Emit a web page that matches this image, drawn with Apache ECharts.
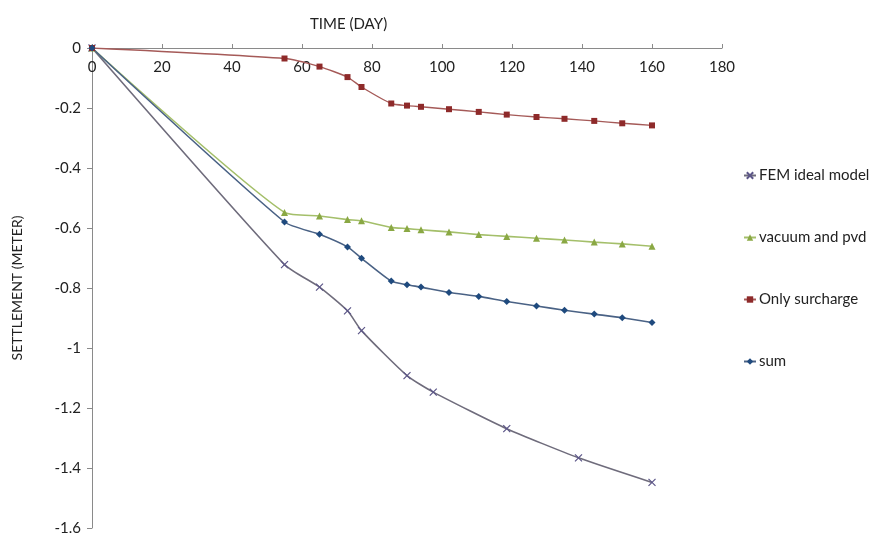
<!DOCTYPE html>
<html>
<head>
<meta charset="utf-8">
<script src="https://cdn.jsdelivr.net/npm/echarts@6/dist/echarts.min.js"></script>
<style>html,body{margin:0;padding:0;background:#fff}#c{width:869px;height:535px}</style>
</head>
<body>
<div id="c"></div>
<script>
var days = [0, 55, 65, 73, 77, 85.5, 90, 94, 102, 110.5, 118.5, 127, 135, 143.5, 151.5, 160];
var surcharge = [0, -0.035, -0.062, -0.097, -0.13, -0.185, -0.192, -0.196, -0.204, -0.213, -0.222, -0.23, -0.236, -0.243, -0.251, -0.258];
var vacuum = [0, -0.548, -0.56, -0.572, -0.576, -0.598, -0.602, -0.606, -0.613, -0.622, -0.628, -0.634, -0.64, -0.647, -0.653, -0.661];
var sum = [0, -0.58, -0.621, -0.663, -0.701, -0.777, -0.789, -0.797, -0.815, -0.828, -0.845, -0.86, -0.874, -0.887, -0.899, -0.915];
var femDays = [0, 55, 65, 73, 77, 90, 97.5, 118.5, 139, 160];
var fem = [0, -0.722, -0.797, -0.876, -0.942, -1.092, -1.147, -1.269, -1.366, -1.448];
var seriesNames = ['FEM ideal model', 'vacuum and pvd', 'Only surcharge', 'sum'];

function pairs(xs, ys) { return xs.map(function (x, i) { return [x, ys[i]]; }); }

var font = 'Lato, "Open Sans", sans-serif';
var chart = echarts.init(document.getElementById('c'), null, {renderer: 'canvas'});
chart.setOption({
  animation: false,
  backgroundColor: '#fff',
  title: {
    text: 'TIME (DAY)', left: 305, top: 12,
    textStyle: {fontFamily: font, fontSize: 15, fontWeight: 'normal', color: '#222'}
  },
  grid: {left: 92, right: 147, top: 48, bottom: 7, containLabel: false, outerBoundsMode: 'none'},
  legend: {
    orient: 'vertical', left: 738, top: 163, itemGap: 47, itemWidth: 12, itemHeight: 8,
    textStyle: {fontFamily: font, fontSize: 15, color: '#222', padding: [0, 0, 0, -2]},
    data: seriesNames
  },
  xAxis: {
    type: 'value', position: 'top', min: 0, max: 180, interval: 20,
    axisLine: {onZero: false, lineStyle: {color: '#8a8a8a', width: 1}},
    axisTick: {show: true, length: 4, lineStyle: {color: '#8a8a8a'}},
    axisLabel: {inside: true, margin: 12, fontFamily: font, fontSize: 15, color: '#222'},
    splitLine: {show: false}
  },
  yAxis: {
    type: 'value', min: -1.6, max: 0, interval: 0.2,
    name: 'SETTLEMENT (METER)', nameLocation: 'middle', nameGap: 68, nameRotate: 90,
    nameTextStyle: {fontFamily: font, fontSize: 14, color: '#222'},
    axisLine: {show: true, lineStyle: {color: '#8a8a8a', width: 1}},
    axisTick: {show: true, length: 5, lineStyle: {color: '#8a8a8a'}},
    axisLabel: {margin: 11, fontFamily: font, fontSize: 15, color: '#222',
      formatter: function (v) { return String(Math.round(v * 10) / 10); }},
    splitLine: {show: false}
  },
  series: [
    {
      name: seriesNames[0], type: 'line', smooth: 0.2, data: pairs(femDays, fem),
      symbol: 'path://M0,0L10,10M10,0L0,10', symbolSize: 7,
      lineStyle: {color: '#6f6c7c', width: 1.6},
      itemStyle: {color: '#5c5688', borderColor: '#5c5688', borderWidth: 1.2}
    },
    {
      name: seriesNames[1], type: 'line', smooth: 0.2, data: pairs(days, vacuum),
      symbol: 'triangle', symbolSize: 7,
      lineStyle: {color: '#a4bf6a', width: 1.6},
      itemStyle: {color: '#8aa844'}
    },
    {
      name: seriesNames[2], type: 'line', smooth: 0.2, data: pairs(days, surcharge),
      symbol: 'rect', symbolSize: 6,
      lineStyle: {color: '#a55a58', width: 1.4},
      itemStyle: {color: '#8e2a2a'}
    },
    {
      name: seriesNames[3], type: 'line', smooth: 0.2, data: pairs(days, sum),
      symbol: 'diamond', symbolSize: 7,
      lineStyle: {color: '#4a6285', width: 1.6},
      itemStyle: {color: '#1f4a7e'}
    }
  ]
});
</script>
</body>
</html>
